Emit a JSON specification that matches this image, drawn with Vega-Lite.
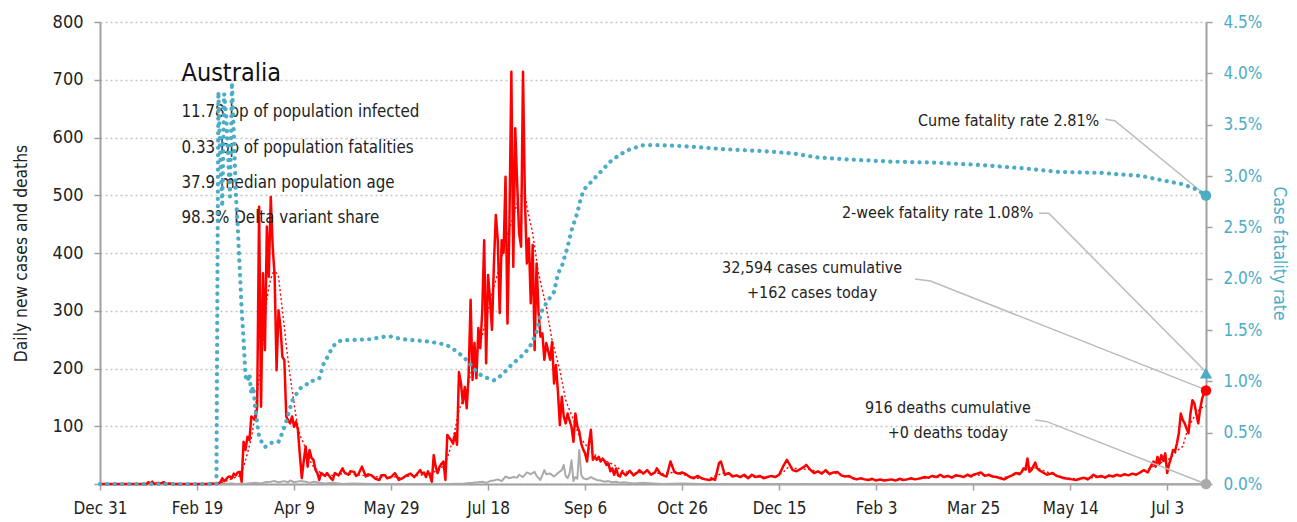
{
"$schema":"https://vega.github.io/schema/vega-lite/v6.json",
"width":1106,"height":462,
"autosize":{"type":"none"},
"padding":{"left":100,"top":22,"right":91,"bottom":38},
"background":"white",
"config":{
 "font":"DejaVu Sans Condensed",
 "view":{"stroke":null},
 "axis":{"labelFont":"DejaVu Sans Condensed","titleFont":"DejaVu Sans Condensed","labelFontSize":17,"titleFontSize":17.3,"titleFontWeight":"normal","labelColor":"#222222","titleColor":"#222222","domainColor":"#a0a0a0","domainWidth":2,"tickColor":"#a0a0a0","tickWidth":1.5,"tickSize":6,"gridColor":"#c4c4c4","gridDash":[2,3],"gridWidth":1.3}
},
"datasets":{
"cases":[
{"date":"2019-12-31","v":0},{"date":"2020-01-05","v":0},{"date":"2020-01-10","v":0},{"date":"2020-01-15","v":0},{"date":"2020-01-20","v":0},{"date":"2020-01-24","v":0},{"date":"2020-01-25","v":3},{"date":"2020-01-26","v":1},{"date":"2020-01-27","v":4},{"date":"2020-01-28","v":0},{"date":"2020-01-30","v":2},{"date":"2020-01-31","v":1},{"date":"2020-02-02","v":3},{"date":"2020-02-03","v":0},{"date":"2020-02-05","v":1},{"date":"2020-02-07","v":0},{"date":"2020-02-14","v":0},{"date":"2020-02-19","v":0},{"date":"2020-02-24","v":0},{"date":"2020-02-27","v":1},{"date":"2020-02-29","v":0},
{"date":"2020-03-01","v":1},{"date":"2020-03-02","v":3},{"date":"2020-03-03","v":10},{"date":"2020-03-04","v":5},{"date":"2020-03-05","v":8},{"date":"2020-03-06","v":12},{"date":"2020-03-07","v":13},{"date":"2020-03-08","v":10},{"date":"2020-03-09","v":18},{"date":"2020-03-10","v":15},{"date":"2020-03-11","v":20},{"date":"2020-03-12","v":21},{"date":"2020-03-13","v":4},{"date":"2020-03-14","v":73},{"date":"2020-03-15","v":59},{"date":"2020-03-16","v":82},{"date":"2020-03-17","v":76},{"date":"2020-03-18","v":117},{"date":"2020-03-19","v":114},{"date":"2020-03-20","v":111},{"date":"2020-03-21","v":134},{"date":"2020-03-22","v":480},{"date":"2020-03-23","v":134},{"date":"2020-03-24","v":365},{"date":"2020-03-25","v":232},{"date":"2020-03-26","v":446},{"date":"2020-03-27","v":359},{"date":"2020-03-28","v":497},{"date":"2020-03-29","v":411},{"date":"2020-03-30","v":360},{"date":"2020-03-31","v":197},
{"date":"2020-04-01","v":301},{"date":"2020-04-02","v":272},{"date":"2020-04-03","v":220},{"date":"2020-04-04","v":215},{"date":"2020-04-05","v":117},{"date":"2020-04-06","v":110},{"date":"2020-04-07","v":105},{"date":"2020-04-08","v":117},{"date":"2020-04-09","v":99},{"date":"2020-04-10","v":108},{"date":"2020-04-11","v":94},{"date":"2020-04-12","v":50},{"date":"2020-04-13","v":10},{"date":"2020-04-14","v":40},{"date":"2020-04-15","v":65},{"date":"2020-04-16","v":30},{"date":"2020-04-17","v":59},{"date":"2020-04-18","v":45},{"date":"2020-04-19","v":42},{"date":"2020-04-20","v":25},{"date":"2020-04-21","v":19},{"date":"2020-04-22","v":7},{"date":"2020-04-23","v":19},{"date":"2020-04-25","v":14},{"date":"2020-04-26","v":19},{"date":"2020-04-28","v":10},{"date":"2020-04-29","v":7},{"date":"2020-04-30","v":19},
{"date":"2020-05-02","v":15},{"date":"2020-05-04","v":27},{"date":"2020-05-05","v":20},{"date":"2020-05-07","v":16},{"date":"2020-05-08","v":22},{"date":"2020-05-10","v":21},{"date":"2020-05-11","v":14},{"date":"2020-05-12","v":16},{"date":"2020-05-14","v":30},{"date":"2020-05-16","v":13},{"date":"2020-05-17","v":17},{"date":"2020-05-19","v":15},{"date":"2020-05-21","v":9},{"date":"2020-05-23","v":7},{"date":"2020-05-24","v":15},{"date":"2020-05-26","v":15},{"date":"2020-05-27","v":10},{"date":"2020-05-29","v":12},{"date":"2020-05-31","v":19},
{"date":"2020-06-02","v":7},{"date":"2020-06-04","v":10},{"date":"2020-06-06","v":15},{"date":"2020-06-08","v":18},{"date":"2020-06-10","v":12},{"date":"2020-06-12","v":20},{"date":"2020-06-13","v":24},{"date":"2020-06-14","v":18},{"date":"2020-06-15","v":20},{"date":"2020-06-16","v":12},{"date":"2020-06-17","v":22},{"date":"2020-06-18","v":15},{"date":"2020-06-19","v":4},{"date":"2020-06-20","v":50},{"date":"2020-06-21","v":30},{"date":"2020-06-22","v":19},{"date":"2020-06-23","v":30},{"date":"2020-06-24","v":35},{"date":"2020-06-25","v":39},{"date":"2020-06-26","v":7},{"date":"2020-06-27","v":85},{"date":"2020-06-28","v":80},{"date":"2020-06-29","v":76},{"date":"2020-06-30","v":70},
{"date":"2020-07-01","v":88},{"date":"2020-07-02","v":68},{"date":"2020-07-03","v":194},{"date":"2020-07-04","v":175},{"date":"2020-07-05","v":140},{"date":"2020-07-06","v":168},{"date":"2020-07-07","v":131},{"date":"2020-07-08","v":190},{"date":"2020-07-09","v":319},{"date":"2020-07-10","v":180},{"date":"2020-07-11","v":244},{"date":"2020-07-12","v":183},{"date":"2020-07-13","v":270},{"date":"2020-07-14","v":235},{"date":"2020-07-15","v":300},{"date":"2020-07-16","v":422},{"date":"2020-07-17","v":209},{"date":"2020-07-18","v":362},{"date":"2020-07-19","v":320},{"date":"2020-07-20","v":267},{"date":"2020-07-21","v":380},{"date":"2020-07-22","v":466},{"date":"2020-07-23","v":422},{"date":"2020-07-24","v":296},{"date":"2020-07-25","v":422},{"date":"2020-07-26","v":400},{"date":"2020-07-27","v":532},{"date":"2020-07-28","v":278},{"date":"2020-07-29","v":450},{"date":"2020-07-30","v":714},{"date":"2020-07-31","v":376},
{"date":"2020-08-01","v":616},{"date":"2020-08-02","v":520},{"date":"2020-08-03","v":434},{"date":"2020-08-04","v":411},{"date":"2020-08-05","v":714},{"date":"2020-08-06","v":492},{"date":"2020-08-07","v":382},{"date":"2020-08-08","v":425},{"date":"2020-08-09","v":313},{"date":"2020-08-10","v":414},{"date":"2020-08-11","v":232},{"date":"2020-08-12","v":382},{"date":"2020-08-13","v":298},{"date":"2020-08-14","v":255},{"date":"2020-08-15","v":261},{"date":"2020-08-16","v":215},{"date":"2020-08-17","v":244},{"date":"2020-08-18","v":230},{"date":"2020-08-19","v":215},{"date":"2020-08-20","v":246},{"date":"2020-08-21","v":174},{"date":"2020-08-22","v":206},{"date":"2020-08-23","v":160},{"date":"2020-08-24","v":102},{"date":"2020-08-25","v":151},{"date":"2020-08-26","v":117},{"date":"2020-08-27","v":105},{"date":"2020-08-28","v":122},{"date":"2020-08-29","v":110},{"date":"2020-08-30","v":99},{"date":"2020-08-31","v":73},
{"date":"2020-09-01","v":122},{"date":"2020-09-02","v":100},{"date":"2020-09-03","v":91},{"date":"2020-09-04","v":70},{"date":"2020-09-05","v":60},{"date":"2020-09-06","v":53},{"date":"2020-09-07","v":39},{"date":"2020-09-08","v":70},{"date":"2020-09-09","v":94},{"date":"2020-09-10","v":42},{"date":"2020-09-11","v":47},{"date":"2020-09-12","v":42},{"date":"2020-09-13","v":47},{"date":"2020-09-14","v":39},{"date":"2020-09-15","v":44},{"date":"2020-09-16","v":40},{"date":"2020-09-17","v":33},{"date":"2020-09-18","v":36},{"date":"2020-09-19","v":22},{"date":"2020-09-20","v":27},{"date":"2020-09-21","v":16},{"date":"2020-09-22","v":27},{"date":"2020-09-23","v":15},{"date":"2020-09-24","v":13},{"date":"2020-09-25","v":21},{"date":"2020-09-27","v":15},{"date":"2020-09-29","v":23},
{"date":"2020-10-01","v":15},{"date":"2020-10-03","v":20},{"date":"2020-10-04","v":24},{"date":"2020-10-06","v":18},{"date":"2020-10-08","v":24},{"date":"2020-10-10","v":16},{"date":"2020-10-12","v":20},{"date":"2020-10-13","v":27},{"date":"2020-10-15","v":17},{"date":"2020-10-17","v":14},{"date":"2020-10-18","v":13},{"date":"2020-10-20","v":39},{"date":"2020-10-22","v":21},{"date":"2020-10-24","v":18},{"date":"2020-10-26","v":20},{"date":"2020-10-28","v":17},{"date":"2020-10-30","v":12},
{"date":"2020-11-01","v":10},{"date":"2020-11-03","v":14},{"date":"2020-11-05","v":10},{"date":"2020-11-07","v":8},{"date":"2020-11-09","v":7},{"date":"2020-11-11","v":9},{"date":"2020-11-12","v":7},{"date":"2020-11-14","v":36},{"date":"2020-11-15","v":39},{"date":"2020-11-17","v":16},{"date":"2020-11-19","v":19},{"date":"2020-11-21","v":13},{"date":"2020-11-23","v":15},{"date":"2020-11-25","v":12},{"date":"2020-11-27","v":16},{"date":"2020-11-29","v":10},
{"date":"2020-12-01","v":16},{"date":"2020-12-03","v":12},{"date":"2020-12-05","v":14},{"date":"2020-12-07","v":10},{"date":"2020-12-09","v":12},{"date":"2020-12-11","v":14},{"date":"2020-12-13","v":12},{"date":"2020-12-15","v":16},{"date":"2020-12-17","v":30},{"date":"2020-12-19","v":42},{"date":"2020-12-21","v":30},{"date":"2020-12-22","v":24},{"date":"2020-12-24","v":22},{"date":"2020-12-26","v":26},{"date":"2020-12-28","v":30},{"date":"2020-12-29","v":33},{"date":"2020-12-31","v":25},
{"date":"2021-01-02","v":19},{"date":"2021-01-04","v":22},{"date":"2021-01-06","v":18},{"date":"2021-01-08","v":24},{"date":"2021-01-10","v":17},{"date":"2021-01-12","v":20},{"date":"2021-01-14","v":21},{"date":"2021-01-16","v":15},{"date":"2021-01-18","v":13},{"date":"2021-01-20","v":14},{"date":"2021-01-22","v":10},{"date":"2021-01-24","v":8},{"date":"2021-01-26","v":10},{"date":"2021-01-28","v":8},{"date":"2021-01-30","v":7},
{"date":"2021-02-01","v":9},{"date":"2021-02-03","v":6},{"date":"2021-02-05","v":8},{"date":"2021-02-07","v":6},{"date":"2021-02-09","v":7},{"date":"2021-02-11","v":8},{"date":"2021-02-13","v":6},{"date":"2021-02-15","v":9},{"date":"2021-02-17","v":7},{"date":"2021-02-19","v":8},{"date":"2021-02-21","v":10},{"date":"2021-02-23","v":8},{"date":"2021-02-26","v":10},{"date":"2021-02-28","v":12},
{"date":"2021-03-02","v":11},{"date":"2021-03-04","v":14},{"date":"2021-03-06","v":12},{"date":"2021-03-08","v":16},{"date":"2021-03-10","v":12},{"date":"2021-03-12","v":14},{"date":"2021-03-14","v":11},{"date":"2021-03-16","v":15},{"date":"2021-03-18","v":14},{"date":"2021-03-20","v":12},{"date":"2021-03-22","v":16},{"date":"2021-03-24","v":13},{"date":"2021-03-25","v":16},{"date":"2021-03-27","v":18},{"date":"2021-03-29","v":20},{"date":"2021-03-31","v":14},
{"date":"2021-04-02","v":16},{"date":"2021-04-04","v":13},{"date":"2021-04-06","v":12},{"date":"2021-04-08","v":10},{"date":"2021-04-10","v":8},{"date":"2021-04-12","v":12},{"date":"2021-04-14","v":15},{"date":"2021-04-16","v":19},{"date":"2021-04-18","v":17},{"date":"2021-04-19","v":21},{"date":"2021-04-20","v":27},{"date":"2021-04-21","v":25},{"date":"2021-04-22","v":44},{"date":"2021-04-23","v":21},{"date":"2021-04-24","v":24},{"date":"2021-04-26","v":37},{"date":"2021-04-27","v":27},{"date":"2021-04-28","v":24},{"date":"2021-04-30","v":20},
{"date":"2021-05-02","v":16},{"date":"2021-05-04","v":18},{"date":"2021-05-05","v":19},{"date":"2021-05-07","v":14},{"date":"2021-05-09","v":12},{"date":"2021-05-11","v":10},{"date":"2021-05-13","v":9},{"date":"2021-05-15","v":8},{"date":"2021-05-17","v":7},{"date":"2021-05-19","v":9},{"date":"2021-05-21","v":11},{"date":"2021-05-23","v":8},{"date":"2021-05-25","v":13},{"date":"2021-05-26","v":16},{"date":"2021-05-28","v":12},{"date":"2021-05-30","v":14},
{"date":"2021-06-01","v":11},{"date":"2021-06-03","v":15},{"date":"2021-06-05","v":13},{"date":"2021-06-07","v":16},{"date":"2021-06-09","v":14},{"date":"2021-06-11","v":17},{"date":"2021-06-13","v":15},{"date":"2021-06-15","v":18},{"date":"2021-06-17","v":16},{"date":"2021-06-19","v":20},{"date":"2021-06-21","v":24},{"date":"2021-06-23","v":20},{"date":"2021-06-24","v":27},{"date":"2021-06-26","v":39},{"date":"2021-06-27","v":30},{"date":"2021-06-28","v":47},{"date":"2021-06-29","v":35},{"date":"2021-06-30","v":50},
{"date":"2021-07-01","v":40},{"date":"2021-07-02","v":53},{"date":"2021-07-03","v":19},{"date":"2021-07-04","v":35},{"date":"2021-07-05","v":45},{"date":"2021-07-06","v":59},{"date":"2021-07-07","v":56},{"date":"2021-07-08","v":70},{"date":"2021-07-09","v":88},{"date":"2021-07-10","v":122},{"date":"2021-07-11","v":111},{"date":"2021-07-12","v":105},{"date":"2021-07-13","v":96},{"date":"2021-07-14","v":88},{"date":"2021-07-15","v":122},{"date":"2021-07-16","v":145},{"date":"2021-07-17","v":140},{"date":"2021-07-18","v":122},{"date":"2021-07-19","v":105},{"date":"2021-07-20","v":130},{"date":"2021-07-21","v":148},{"date":"2021-07-22","v":157},{"date":"2021-07-23","v":162}
],
"avg":[
{"date":"2019-12-31","v":0},{"date":"2020-02-29","v":0},{"date":"2020-03-05","v":5},{"date":"2020-03-10","v":12},{"date":"2020-03-12","v":14},{"date":"2020-03-14","v":30},{"date":"2020-03-16","v":53},{"date":"2020-03-18","v":80},{"date":"2020-03-19","v":99},{"date":"2020-03-21","v":157},{"date":"2020-03-23","v":210},{"date":"2020-03-24","v":244},{"date":"2020-03-26","v":320},{"date":"2020-03-27","v":340},{"date":"2020-03-28","v":355},{"date":"2020-03-29","v":365},{"date":"2020-03-30","v":368},{"date":"2020-03-31","v":365},{"date":"2020-04-01","v":359},{"date":"2020-04-02","v":330},{"date":"2020-04-04","v":272},{"date":"2020-04-05","v":240},{"date":"2020-04-07","v":186},{"date":"2020-04-09","v":140},{"date":"2020-04-10","v":117},{"date":"2020-04-12","v":85},{"date":"2020-04-14","v":70},{"date":"2020-04-17","v":42},{"date":"2020-04-19","v":30},{"date":"2020-04-21","v":24},{"date":"2020-04-24","v":16},{"date":"2020-04-29","v":15},{"date":"2020-05-04","v":18},{"date":"2020-05-09","v":17},{"date":"2020-05-14","v":15},{"date":"2020-05-19","v":13},{"date":"2020-05-24","v":12},{"date":"2020-05-29","v":13},{"date":"2020-06-03","v":11},{"date":"2020-06-08","v":14},{"date":"2020-06-13","v":15},{"date":"2020-06-18","v":18},{"date":"2020-06-23","v":25},{"date":"2020-06-24","v":28},{"date":"2020-06-27","v":45},{"date":"2020-06-30","v":78},{"date":"2020-07-03","v":128},{"date":"2020-07-07","v":163},{"date":"2020-07-10","v":203},{"date":"2020-07-14","v":244},{"date":"2020-07-17","v":284},{"date":"2020-07-20","v":330},{"date":"2020-07-24","v":376},{"date":"2020-07-27","v":422},{"date":"2020-07-31","v":463},{"date":"2020-08-03","v":497},{"date":"2020-08-06","v":503},{"date":"2020-08-07","v":480},{"date":"2020-08-10","v":434},{"date":"2020-08-13","v":365},{"date":"2020-08-17","v":307},{"date":"2020-08-20","v":249},{"date":"2020-08-24","v":197},{"date":"2020-08-27","v":145},{"date":"2020-08-31","v":111},{"date":"2020-09-03","v":82},{"date":"2020-09-07","v":65},{"date":"2020-09-10","v":53},{"date":"2020-09-14","v":44},{"date":"2020-09-17","v":39},{"date":"2020-09-21","v":33},{"date":"2020-09-24","v":25},{"date":"2020-09-28","v":20},{"date":"2020-10-02","v":19},{"date":"2020-10-06","v":20},{"date":"2020-10-11","v":20},{"date":"2020-10-16","v":18},{"date":"2020-10-20","v":20},{"date":"2020-10-24","v":18},{"date":"2020-10-29","v":14},{"date":"2020-11-03","v":10},{"date":"2020-11-08","v":8},{"date":"2020-11-13","v":15},{"date":"2020-11-17","v":20},{"date":"2020-11-21","v":15},{"date":"2020-11-25","v":13},{"date":"2020-12-01","v":12},{"date":"2020-12-07","v":12},{"date":"2020-12-13","v":13},{"date":"2020-12-17","v":20},{"date":"2020-12-20","v":30},{"date":"2020-12-23","v":27},{"date":"2020-12-27","v":26},{"date":"2020-12-31","v":25},{"date":"2021-01-04","v":21},{"date":"2021-01-09","v":20},{"date":"2021-01-14","v":18},{"date":"2021-01-19","v":13},{"date":"2021-01-24","v":9},{"date":"2021-01-29","v":8},{"date":"2021-02-03","v":7},{"date":"2021-02-13","v":7},{"date":"2021-02-23","v":9},{"date":"2021-03-05","v":12},{"date":"2021-03-15","v":13},{"date":"2021-03-25","v":15},{"date":"2021-03-30","v":16},{"date":"2021-04-04","v":14},{"date":"2021-04-09","v":11},{"date":"2021-04-14","v":14},{"date":"2021-04-19","v":22},{"date":"2021-04-23","v":28},{"date":"2021-04-27","v":28},{"date":"2021-05-01","v":22},{"date":"2021-05-06","v":16},{"date":"2021-05-12","v":10},{"date":"2021-05-19","v":9},{"date":"2021-05-26","v":11},{"date":"2021-06-03","v":13},{"date":"2021-06-11","v":15},{"date":"2021-06-18","v":18},{"date":"2021-06-23","v":25},{"date":"2021-06-28","v":35},{"date":"2021-07-03","v":40},{"date":"2021-07-06","v":50},{"date":"2021-07-09","v":60},{"date":"2021-07-11","v":65},{"date":"2021-07-14","v":99},{"date":"2021-07-17","v":117},{"date":"2021-07-20","v":131},{"date":"2021-07-23","v":135}
],
"deaths":[
{"date":"2019-12-31","v":0},{"date":"2020-02-29","v":0},{"date":"2020-03-01","v":1},{"date":"2020-03-03","v":0},{"date":"2020-03-08","v":1},{"date":"2020-03-10","v":0},{"date":"2020-03-16","v":1},{"date":"2020-03-20","v":2},{"date":"2020-03-23","v":1},{"date":"2020-03-25","v":3},{"date":"2020-03-28","v":4},{"date":"2020-03-30","v":5},{"date":"2020-04-01","v":3},{"date":"2020-04-04","v":5},{"date":"2020-04-06","v":3},{"date":"2020-04-07","v":6},{"date":"2020-04-09","v":3},{"date":"2020-04-12","v":5},{"date":"2020-04-15","v":4},{"date":"2020-04-17","v":2},{"date":"2020-04-19","v":4},{"date":"2020-04-22","v":2},{"date":"2020-04-25","v":1},{"date":"2020-04-29","v":2},{"date":"2020-05-04","v":0},{"date":"2020-05-09","v":1},{"date":"2020-05-19","v":0},{"date":"2020-06-28","v":0},{"date":"2020-07-06","v":1},{"date":"2020-07-10","v":2},{"date":"2020-07-13","v":3},{"date":"2020-07-15","v":4},{"date":"2020-07-17","v":2},{"date":"2020-07-19","v":5},{"date":"2020-07-21","v":6},{"date":"2020-07-23","v":8},{"date":"2020-07-25","v":5},{"date":"2020-07-27","v":13},{"date":"2020-07-29","v":10},{"date":"2020-07-31","v":12},{"date":"2020-08-02","v":11},{"date":"2020-08-03","v":16},{"date":"2020-08-05","v":12},{"date":"2020-08-07","v":20},{"date":"2020-08-09","v":17},{"date":"2020-08-11","v":21},{"date":"2020-08-12","v":14},{"date":"2020-08-14","v":7},{"date":"2020-08-16","v":24},{"date":"2020-08-17","v":17},{"date":"2020-08-19","v":18},{"date":"2020-08-21","v":13},{"date":"2020-08-23","v":19},{"date":"2020-08-25","v":24},{"date":"2020-08-26","v":33},{"date":"2020-08-27","v":14},{"date":"2020-08-28","v":10},{"date":"2020-08-29","v":18},{"date":"2020-08-30","v":41},{"date":"2020-08-31","v":5},{"date":"2020-09-01","v":12},{"date":"2020-09-02","v":9},{"date":"2020-09-03","v":59},{"date":"2020-09-04","v":16},{"date":"2020-09-05","v":10},{"date":"2020-09-07","v":8},{"date":"2020-09-09","v":12},{"date":"2020-09-10","v":10},{"date":"2020-09-12","v":7},{"date":"2020-09-14","v":6},{"date":"2020-09-16","v":4},{"date":"2020-09-18","v":5},{"date":"2020-09-20","v":3},{"date":"2020-09-22","v":4},{"date":"2020-09-24","v":2},{"date":"2020-09-26","v":3},{"date":"2020-09-28","v":2},{"date":"2020-10-01","v":1},{"date":"2020-10-06","v":2},{"date":"2020-10-11","v":1},{"date":"2020-10-16","v":0},{"date":"2020-10-26","v":1},{"date":"2020-11-05","v":0},{"date":"2021-07-23","v":0}
],
"cfr":[
{"date":"2019-12-31","v":0},{"date":"2020-02-29","v":0},{"date":"2020-03-01","v":0.0382},{"date":"2020-03-02","v":0.032},{"date":"2020-03-03","v":0.027},{"date":"2020-03-04","v":0.038},{"date":"2020-03-05","v":0.036},{"date":"2020-03-06","v":0.032},{"date":"2020-03-07","v":0.028},{"date":"2020-03-08","v":0.0391},{"date":"2020-03-09","v":0.034},{"date":"2020-03-10","v":0.0283},{"date":"2020-03-11","v":0.025},{"date":"2020-03-12","v":0.021},{"date":"2020-03-13","v":0.017},{"date":"2020-03-14","v":0.014},{"date":"2020-03-15","v":0.0105},{"date":"2020-03-16","v":0.01},{"date":"2020-03-17","v":0.0107},{"date":"2020-03-18","v":0.0088},{"date":"2020-03-19","v":0.0095},{"date":"2020-03-20","v":0.0075},{"date":"2020-03-21","v":0.0059},{"date":"2020-03-22","v":0.0046},{"date":"2020-03-23","v":0.0042},{"date":"2020-03-25","v":0.0036},{"date":"2020-03-28","v":0.004},{"date":"2020-04-01","v":0.0041},{"date":"2020-04-03","v":0.005},{"date":"2020-04-05","v":0.0061},{"date":"2020-04-08","v":0.0081},{"date":"2020-04-10","v":0.0087},{"date":"2020-04-12","v":0.0093},{"date":"2020-04-15","v":0.0096},{"date":"2020-04-17","v":0.01},{"date":"2020-04-20","v":0.0101},{"date":"2020-04-22","v":0.0103},{"date":"2020-04-24","v":0.0116},{"date":"2020-04-26","v":0.0123},{"date":"2020-04-29","v":0.0134},{"date":"2020-05-02","v":0.0139},{"date":"2020-05-04","v":0.014},{"date":"2020-05-18","v":0.0141},{"date":"2020-05-24","v":0.0143},{"date":"2020-05-28","v":0.0144},{"date":"2020-06-04","v":0.0141},{"date":"2020-06-16","v":0.0139},{"date":"2020-06-23","v":0.0137},{"date":"2020-06-27","v":0.0135},{"date":"2020-07-02","v":0.0129},{"date":"2020-07-05","v":0.0124},{"date":"2020-07-08","v":0.0119},{"date":"2020-07-10","v":0.0113},{"date":"2020-07-15","v":0.0105},{"date":"2020-07-18","v":0.0103},{"date":"2020-07-21","v":0.0101},{"date":"2020-07-23","v":0.0103},{"date":"2020-07-26","v":0.0108},{"date":"2020-07-30","v":0.0116},{"date":"2020-08-04","v":0.0124},{"date":"2020-08-08","v":0.0132},{"date":"2020-08-10","v":0.0139},{"date":"2020-08-12","v":0.0148},{"date":"2020-08-13","v":0.0157},{"date":"2020-08-15","v":0.017},{"date":"2020-08-18","v":0.0179},{"date":"2020-08-21","v":0.0187},{"date":"2020-08-23","v":0.0205},{"date":"2020-08-25","v":0.0212},{"date":"2020-08-28","v":0.0231},{"date":"2020-08-30","v":0.0247},{"date":"2020-09-02","v":0.0264},{"date":"2020-09-04","v":0.028},{"date":"2020-09-06","v":0.0288},{"date":"2020-09-10","v":0.0296},{"date":"2020-09-14","v":0.0304},{"date":"2020-09-19","v":0.0314},{"date":"2020-09-24","v":0.0321},{"date":"2020-09-29","v":0.0326},{"date":"2020-10-06","v":0.033},{"date":"2020-10-15","v":0.033},{"date":"2020-10-27","v":0.0329},{"date":"2020-11-18","v":0.0326},{"date":"2020-12-09","v":0.0324},{"date":"2020-12-22","v":0.0322},{"date":"2021-01-04","v":0.0318},{"date":"2021-01-21","v":0.0316},{"date":"2021-02-11","v":0.0314},{"date":"2021-03-05","v":0.0313},{"date":"2021-03-26","v":0.0311},{"date":"2021-04-17","v":0.0308},{"date":"2021-05-08","v":0.0304},{"date":"2021-05-30","v":0.0303},{"date":"2021-06-20","v":0.03},{"date":"2021-06-30","v":0.0296},{"date":"2021-07-11","v":0.0292},{"date":"2021-07-18","v":0.0287},{"date":"2021-07-23","v":0.0281}
],
"leaders":[
{"g":"cume","date":"2021-06-01","v":631.5},{"g":"cume","date":"2021-06-06","v":629},{"g":"cume","date":"2021-07-23","v":499.6},
{"g":"twoweek","date":"2021-04-28","v":468.7},{"g":"twoweek","date":"2021-05-03","v":468.7},{"g":"twoweek","date":"2021-07-23","v":194},
{"g":"cases","date":"2021-02-23","v":355},{"g":"cases","date":"2021-03-03","v":351.5},{"g":"cases","date":"2021-07-23","v":163},
{"g":"deaths","date":"2021-04-26","v":110.8},{"g":"deaths","date":"2021-05-02","v":108},{"g":"deaths","date":"2021-07-23","v":0}
],
"labels":[
{"group":"rate","date":"2021-05-29","v":628,"t":"Cume fatality rate 2.81%"},
{"group":"rate","date":"2021-04-25","v":469,"t":"2-week fatality rate 1.08%"},
{"group":"count","date":"2021-01-01","v":374,"t":"32,594 cases cumulative"},
{"group":"count","date":"2021-01-01","v":331,"t":"+162 cases today"},
{"group":"count","date":"2021-03-12","v":131.6,"t":"916 deaths cumulative"},
{"group":"count","date":"2021-03-12","v":88.3,"t":"+0 deaths today"},
{"group":"info","date":"2020-02-11","v":635,"t":"11.78 bp of population infected"},
{"group":"info","date":"2020-02-11","v":573.7,"t":"0.33 bp of population fatalities"},
{"group":"info","date":"2020-02-11","v":513,"t":"37.9 median population age"},
{"group":"info","date":"2020-02-11","v":452.5,"t":"98.3% Delta variant share"},
{"group":"name","date":"2020-02-11","v":697.8,"t":"Australia"}
],
"endsLeft":[
{"s":"cases","date":"2021-07-23","v":162},
{"s":"deaths","date":"2021-07-23","v":0}
],
"endsRight":[
{"s":"cume","date":"2021-07-23","v":0.0281},
{"s":"twoweek","date":"2021-07-23","v":0.0108}
]
},
"layer":[
{
"layer":[
{"data":{"name":"deaths"},"mark":{"type":"line","color":"#aaaaaa","strokeWidth":2,"strokeJoin":"round"},
 "encoding":{
  "x":{"field":"date","type":"temporal","scale":{"domain":[{"year":2019,"month":12,"date":31},{"year":2021,"month":7,"date":23}]},
   "axis":{"title":null,"grid":false,"format":"%b %-d","labelFlush":false,"labelOverlap":false,"labelPadding":10,
    "values":[{"year":2019,"month":12,"date":31},{"year":2020,"month":2,"date":19},{"year":2020,"month":4,"date":9},{"year":2020,"month":5,"date":29},{"year":2020,"month":7,"date":18},{"year":2020,"month":9,"date":6},{"year":2020,"month":10,"date":26},{"year":2020,"month":12,"date":15},{"year":2021,"month":2,"date":3},{"year":2021,"month":3,"date":25},{"year":2021,"month":5,"date":14},{"year":2021,"month":7,"date":3}]}},
  "y":{"field":"v","type":"quantitative","scale":{"domain":[0,800]},
   "axis":{"title":"Daily new cases and deaths","grid":true,"values":[0,100,200,300,400,500,600,700,800],"labelExpr":"datum.value === 0 ? '' : datum.label","labelFontSize":18,"labelPadding":11,"titlePadding":22}}
 }},
{"data":{"name":"avg"},"mark":{"type":"line","color":"#ff0000","strokeWidth":1.4,"strokeDash":[2,2.5]},
 "encoding":{"x":{"field":"date","type":"temporal"},"y":{"field":"v","type":"quantitative"}}},
{"data":{"name":"cases"},"mark":{"type":"line","color":"#ff0000","strokeWidth":2.5,"strokeJoin":"round"},
 "encoding":{"x":{"field":"date","type":"temporal"},"y":{"field":"v","type":"quantitative"}}},
{"data":{"name":"leaders"},"mark":{"type":"line","color":"#bbbbbb","strokeWidth":1.5},
 "encoding":{"x":{"field":"date","type":"temporal"},"y":{"field":"v","type":"quantitative"},"detail":{"field":"g"}}},
{"data":{"name":"endsLeft"},"mark":{"type":"point","filled":true,"opacity":1,"size":110},
 "encoding":{"x":{"field":"date","type":"temporal"},"y":{"field":"v","type":"quantitative"},
  "color":{"field":"s","type":"nominal","scale":{"domain":["cases","deaths"],"range":["#ff0000","#aaaaaa"]},"legend":null}}},
{"data":{"name":"labels"},"transform":[{"filter":"datum.group === 'rate'"}],
 "mark":{"type":"text","align":"right","baseline":"middle","fontSize":16,"color":"#222222","font":"DejaVu Sans Condensed"},
 "encoding":{"x":{"field":"date","type":"temporal"},"y":{"field":"v","type":"quantitative"},"text":{"field":"t"}}},
{"data":{"name":"labels"},"transform":[{"filter":"datum.group === 'count'"}],
 "mark":{"type":"text","align":"center","baseline":"middle","fontSize":16,"color":"#222222","font":"DejaVu Sans Condensed"},
 "encoding":{"x":{"field":"date","type":"temporal"},"y":{"field":"v","type":"quantitative"},"text":{"field":"t"}}},
{"data":{"name":"labels"},"transform":[{"filter":"datum.group === 'info'"}],
 "mark":{"type":"text","align":"left","baseline":"alphabetic","fontSize":16.8,"color":"#222222","font":"DejaVu Sans Condensed"},
 "encoding":{"x":{"field":"date","type":"temporal"},"y":{"field":"v","type":"quantitative"},"text":{"field":"t"}}},
{"data":{"name":"labels"},"transform":[{"filter":"datum.group === 'name'"}],
 "mark":{"type":"text","align":"left","baseline":"alphabetic","fontSize":25,"color":"#111111","font":"DejaVu Sans Condensed"},
 "encoding":{"x":{"field":"date","type":"temporal"},"y":{"field":"v","type":"quantitative"},"text":{"field":"t"}}}
]
},
{
"layer":[
{"data":{"name":"cfr"},"mark":{"type":"line","color":"#4bacc6","strokeWidth":4.2,"strokeCap":"round","strokeDash":[0.1,7.2]},
 "encoding":{"x":{"field":"date","type":"temporal"},
  "y":{"field":"v","type":"quantitative","scale":{"domain":[0,0.045]},
   "axis":{"orient":"right","title":"Case fatality rate","format":".1%","grid":false,"values":[0,0.005,0.01,0.015,0.02,0.025,0.03,0.035,0.04,0.045],"labelColor":"#4bacc6","titleColor":"#4bacc6","labelPadding":11,"titlePadding":8}}}},
{"data":{"name":"endsRight"},"transform":[{"filter":"datum.s === 'cume'"}],"mark":{"type":"point","shape":"circle","filled":true,"opacity":1,"size":110,"color":"#4bacc6"},
 "encoding":{"x":{"field":"date","type":"temporal"},"y":{"field":"v","type":"quantitative"}}},
{"data":{"name":"endsRight"},"transform":[{"filter":"datum.s === 'twoweek'"}],"mark":{"type":"point","shape":"triangle-up","filled":true,"opacity":1,"size":150,"color":"#4bacc6"},
 "encoding":{"x":{"field":"date","type":"temporal"},"y":{"field":"v","type":"quantitative"}}}
]
}
],
"resolve":{"scale":{"y":"independent"}}
}
